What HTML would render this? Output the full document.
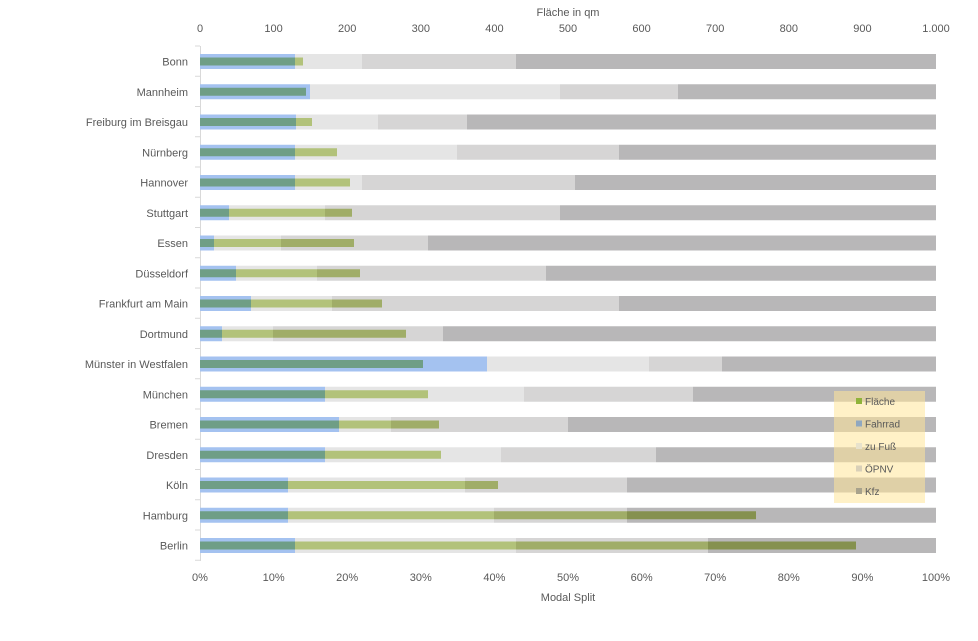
<!DOCTYPE html>
<html><head><meta charset="utf-8"><style>
body{margin:0;background:#fff;}
svg text{font-family:"Liberation Sans",sans-serif;fill:#595959;font-size:11px;}
</style></head><body>
<svg id="s" width="978" height="636" xmlns="http://www.w3.org/2000/svg"></svg>
<script>
const rows=[
["Bonn",295,362,516,303],["Mannheim",310,560,678,306],["Freiburg im Breisgau",296,378,467,312],
["Nürnberg",295,457,619,337],["Hannover",295,362,575,350],["Stuttgart",229,325,560,352],
["Essen",214,281,428,354],["Düsseldorf",236,317,546,360],["Frankfurt am Main",251,332,619,382],
["Dortmund",222,273,443,406],["Münster in Westfalen",487,649,722,423],["München",325,524,693,428],
["Bremen",339,391,568,439],["Dresden",325,501,656,441],["Köln",288,465,627,498],
["Hamburg",288,494,627,756],["Berlin",295,516,708,856]];
const base=["#a4c2f0","#e5e5e5","#d6d5d5","#b8b7b8"];
const over=["#6f9e86","#b2c27a","#a0ad68","#85914f"];
let h='';
const X0=200,X1=936;
// axis
h+=`<line x1="200.5" y1="46" x2="200.5" y2="561" stroke="#d9d9d9"/>`;
for(let i=0;i<=17;i++){const y=46+i*30.25;h+=`<line x1="195" y1="${y}" x2="200" y2="${y}" stroke="#d9d9d9"/>`;}
rows.forEach((r,i)=>{
 const cy=61.5+i*30.25;
 const ed=[X0,r[1],r[2],r[3],X1];
 for(let k=0;k<4;k++)h+=`<rect x="${ed[k]}" y="${cy-7.5}" width="${ed[k+1]-ed[k]}" height="15" fill="${base[k]}"/>`;
 for(let k=0;k<4;k++){const a=ed[k],b=Math.min(ed[k+1],r[4]);if(b>a)h+=`<rect x="${a}" y="${cy-4}" width="${b-a}" height="8" fill="${over[k]}"/>`;}
 h+=`<text x="188" y="${cy+4}" text-anchor="end">${r[0]}</text>`;
});
const tl=["0","100","200","300","400","500","600","700","800","900","1.000"];
for(let i=0;i<=10;i++){const x=X0+i*73.6;
 h+=`<text x="${x}" y="32" text-anchor="middle">${tl[i]}</text>`;
 h+=`<text x="${x}" y="581" text-anchor="middle">${i*10}%</text>`;}
h+=`<text x="568" y="16" text-anchor="middle">Fläche in qm</text>`;
h+=`<text x="568" y="601" text-anchor="middle">Modal Split</text>`;
// legend
h+=`<rect x="834" y="391" width="91" height="112" fill="#ffe699" fill-opacity="0.55"/>`;
const lg=[["Fläche","#8fb33a"],["Fahrrad","#8fa7c0"],["zu Fuß","#e8e2cc"],["ÖPNV","#d9d0b8"],["Kfz","#a8a28c"]];
lg.forEach((l,i)=>{const y=401+i*22.5;
 h+=`<rect x="856" y="${y-3}" width="6" height="6" fill="${l[1]}"/>`;
 h+=`<text x="865" y="${y+4}" style="font-size:10px">${l[0]}</text>`;});
document.getElementById('s').innerHTML=h;
</script>
</body></html>
